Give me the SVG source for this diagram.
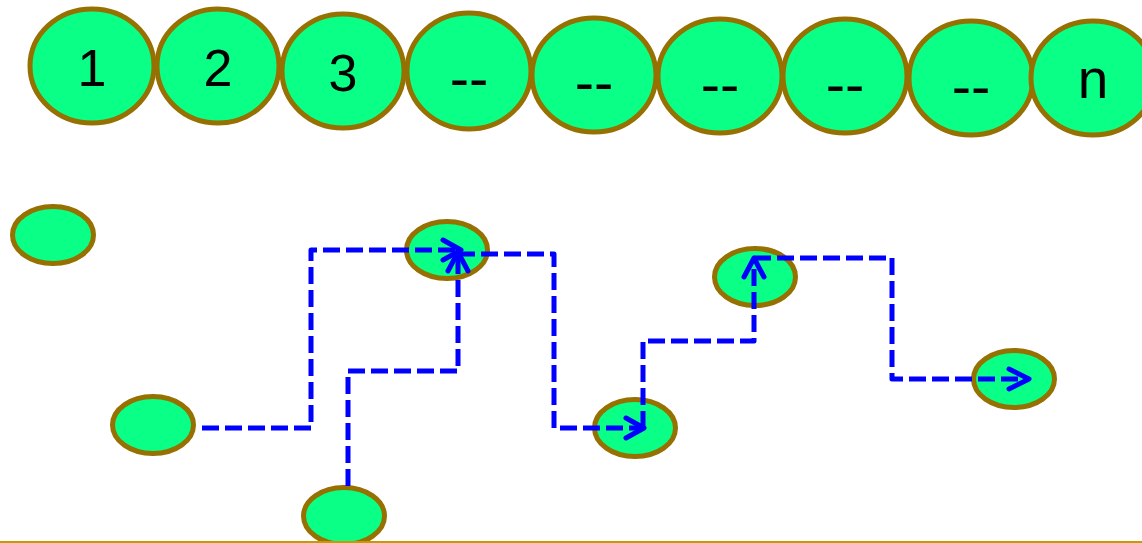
<svg xmlns="http://www.w3.org/2000/svg" width="1142" height="543" viewBox="0 0 1142 543">
<style>
.n{fill:#0aff86;stroke:#967000;stroke-width:5}
.t{font-family:"Liberation Sans",Arial,sans-serif;font-size:52px;fill:#000;text-anchor:middle}
.d{font-size:58px}
.m{font-size:55px}
.c{fill:none;stroke:#0000ff;stroke-width:5;stroke-dasharray:17 6;stroke-linejoin:round}
.h{fill:none;stroke:#0000ff;stroke-width:5;stroke-linecap:round;stroke-linejoin:round}
</style>
<rect width="1142" height="543" fill="#fff"/>
<g id="top">
<g id="t1"><ellipse class="n" cx="92" cy="66" rx="62" ry="57"/><text class="t" x="92" y="86">1</text></g>
<g id="t2"><ellipse class="n" cx="218" cy="66" rx="61" ry="57"/><text class="t" x="218" y="86">2</text></g>
<g id="t3"><ellipse class="n" cx="343" cy="71" rx="61" ry="57"/><text class="t" x="343" y="91">3</text></g>
<g id="t4"><ellipse class="n" cx="469" cy="71" rx="62" ry="58"/><text class="t d" x="469" y="98">--</text></g>
<g id="t5"><ellipse class="n" cx="594" cy="75" rx="62" ry="57"/><text class="t d" x="594" y="102">--</text></g>
<g id="t6"><ellipse class="n" cx="720" cy="76" rx="62" ry="57"/><text class="t d" x="720" y="104">--</text></g>
<g id="t7"><ellipse class="n" cx="845" cy="76" rx="62" ry="57"/><text class="t d" x="845" y="104">--</text></g>
<g id="t8"><ellipse class="n" cx="971" cy="78" rx="62" ry="57"/><text class="t d" x="971" y="106">--</text></g>
<g id="t9"><ellipse class="n" cx="1093" cy="78" rx="62" ry="57"/><text class="t m" x="1093" y="98">n</text></g>
</g>
<g id="nA"><ellipse class="n" cx="53" cy="235" rx="40.5" ry="28.5"/></g>
<g id="nB"><ellipse class="n" cx="153" cy="425" rx="40.5" ry="28.5"/></g>
<g id="nC"><ellipse class="n" cx="344" cy="516" rx="40.5" ry="28.5"/></g>
<g id="nD"><ellipse class="n" cx="447" cy="250" rx="40.5" ry="28.5"/></g>
<g id="nE"><ellipse class="n" cx="635" cy="428" rx="40.5" ry="28.5"/></g>
<g id="nF"><ellipse class="n" cx="755" cy="277" rx="40.5" ry="28.5"/></g>
<g id="nG"><ellipse class="n" cx="1014" cy="379" rx="40.5" ry="28.5"/></g>
<g id="connectors">
<path class="c" d="M202 428 H311 V250 H461"/>
<path class="h" d="M443 240 L461 250 L443 260"/>
<path class="c" d="M348 486 V371 H458 V252"/>
<path class="h" d="M448 271 L458 252 L468 271"/>
<path class="c" d="M458 254 H554 V428 H644"/>
<path class="h" d="M626 418 L644 428 L626 438"/>
<path class="c" d="M643 428 V341 H754 V258"/>
<path class="h" d="M744 277 L754 258 L764 277"/>
<path class="c" d="M754 258 H892 V379 H1029"/>
<path class="h" d="M1009 369 L1029 379 L1009 389"/>
</g>
<line x1="0" y1="542" x2="1142" y2="542" stroke="#c99a00" stroke-width="2"/>
</svg>
